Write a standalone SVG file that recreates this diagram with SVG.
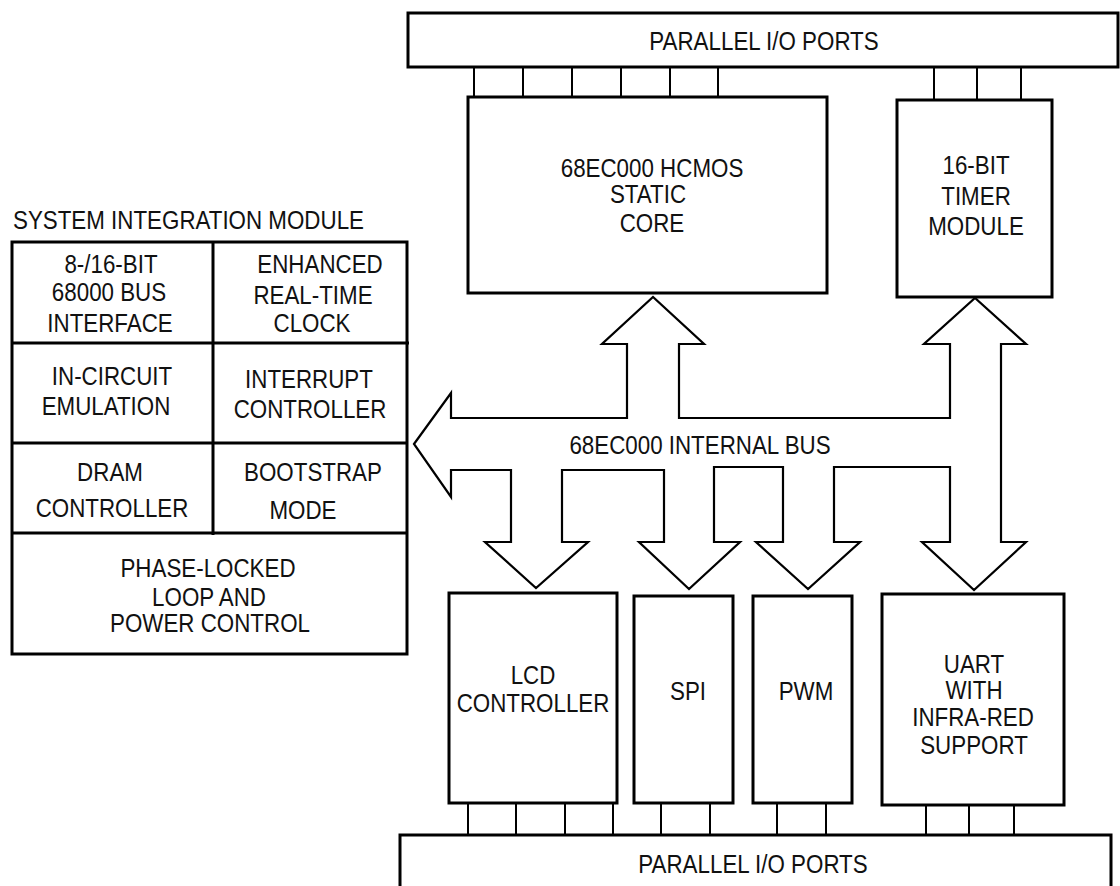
<svg xmlns="http://www.w3.org/2000/svg" width="1120" height="886" viewBox="0 0 1120 886">
<style>
.box{fill:#fff;stroke:#000;stroke-width:3}
.div{stroke:#000;stroke-width:3;fill:none}
.bus{fill:#fff;stroke:#000;stroke-width:2.2;stroke-linejoin:miter}
.tick{stroke:#000;stroke-width:2}
text{font-family:"Liberation Sans",Arial,Helvetica,sans-serif;font-size:26px;fill:#111;text-anchor:middle}
text.l{text-anchor:start}
</style>
<rect width="1120" height="886" fill="#fff"/>
<g id="connectors">
  <g id="bus">
    <polygon class="bus" points="414,444 451,393 451,418 627,418 627,344 602,344 653,297 704,344 679,344 679,418 950,418 950,344 924,344 975,298 1026,344 1001,344 1001,542 1026,542 974,590 922,542 950,542 950,467 834,467 834,542 860,542 808,589 756,542 783,542 783,467 714,467 714,542 740,542 689,589 639,542 664,542 664,470 562,470 562,542 588,542 536,588 485,542 511,542 511,470 451,470 451,497"/>
    <text transform="translate(700,454) scale(0.86,1)">68EC000 INTERNAL BUS</text>
  </g>
  <g id="port-lines-top">
    <line class="tick" x1="474" y1="67" x2="474" y2="97"/>
    <line class="tick" x1="523" y1="67" x2="523" y2="97"/>
    <line class="tick" x1="572" y1="67" x2="572" y2="97"/>
    <line class="tick" x1="621" y1="67" x2="621" y2="97"/>
    <line class="tick" x1="670" y1="67" x2="670" y2="97"/>
    <line class="tick" x1="718" y1="67" x2="718" y2="97"/>
    <line class="tick" x1="934" y1="67" x2="934" y2="100"/>
    <line class="tick" x1="977" y1="67" x2="977" y2="100"/>
    <line class="tick" x1="1021" y1="67" x2="1021" y2="100"/>
  </g>
  <g id="port-lines-bottom">
    <line class="tick" x1="468" y1="803" x2="468" y2="835"/>
    <line class="tick" x1="516" y1="803" x2="516" y2="835"/>
    <line class="tick" x1="565" y1="803" x2="565" y2="835"/>
    <line class="tick" x1="613" y1="803" x2="613" y2="835"/>
    <line class="tick" x1="661" y1="803" x2="661" y2="835"/>
    <line class="tick" x1="710" y1="803" x2="710" y2="835"/>
    <line class="tick" x1="777" y1="803" x2="777" y2="837"/>
    <line class="tick" x1="826" y1="803" x2="826" y2="837"/>
    <line class="tick" x1="926" y1="805" x2="926" y2="835"/>
    <line class="tick" x1="969" y1="805" x2="969" y2="835"/>
    <line class="tick" x1="1014" y1="805" x2="1014" y2="835"/>
  </g>
</g>
<g id="ports-top">
  <rect class="box" x="408" y="13" width="710" height="54"/>
  <text transform="translate(764,50) scale(0.86,1)">PARALLEL I/O PORTS</text>
</g>
<g id="core">
  <rect class="box" x="468" y="97" width="359" height="196"/>
  <text transform="translate(652,177) scale(0.86,1)">68EC000 HCMOS</text>
  <text transform="translate(648,203) scale(0.86,1)">STATIC</text>
  <text transform="translate(652,232) scale(0.86,1)">CORE</text>
</g>
<g id="timer">
  <rect class="box" x="897" y="100" width="155" height="197"/>
  <text transform="translate(976,174) scale(0.86,1)">16-BIT</text>
  <text transform="translate(976,205) scale(0.86,1)">TIMER</text>
  <text transform="translate(976,235) scale(0.86,1)">MODULE</text>
</g>
<g id="sim">
  <text class="l" transform="translate(13,229) scale(0.86,1)">SYSTEM INTEGRATION MODULE</text>
  <rect class="box" x="12" y="242" width="395" height="412"/>
  <line class="div" x1="213" y1="242" x2="213" y2="535"/>
  <line class="div" x1="12" y1="343" x2="409" y2="343"/>
  <line class="div" x1="12" y1="443" x2="407" y2="443"/>
  <line class="div" x1="12" y1="533" x2="407" y2="533"/>
  <g id="sim-bus-interface">
    <text transform="translate(111,273) scale(0.86,1)">8-/16-BIT</text>
    <text transform="translate(109,301) scale(0.86,1)">68000 BUS</text>
    <text transform="translate(110,332) scale(0.86,1)">INTERFACE</text>
  </g>
  <g id="sim-rtc">
    <text transform="translate(320,273) scale(0.86,1)">ENHANCED</text>
    <text transform="translate(313,304) scale(0.86,1)">REAL-TIME</text>
    <text transform="translate(312,332) scale(0.86,1)">CLOCK</text>
  </g>
  <g id="sim-ice">
    <text transform="translate(112,385) scale(0.86,1)">IN-CIRCUIT</text>
    <text transform="translate(106,415) scale(0.86,1)">EMULATION</text>
  </g>
  <g id="sim-interrupt">
    <text transform="translate(309,388) scale(0.86,1)">INTERRUPT</text>
    <text transform="translate(310,418) scale(0.86,1)">CONTROLLER</text>
  </g>
  <g id="sim-dram">
    <text transform="translate(110,481) scale(0.86,1)">DRAM</text>
    <text transform="translate(112,517) scale(0.86,1)">CONTROLLER</text>
  </g>
  <g id="sim-bootstrap">
    <text transform="translate(313,481) scale(0.86,1)">BOOTSTRAP</text>
    <text transform="translate(303,519) scale(0.86,1)">MODE</text>
  </g>
  <g id="sim-pll">
    <text transform="translate(208,577) scale(0.86,1)">PHASE-LOCKED</text>
    <text transform="translate(209,606) scale(0.86,1)">LOOP AND</text>
    <text transform="translate(210,632) scale(0.86,1)">POWER CONTROL</text>
  </g>
</g>
<g id="lcd">
  <rect class="box" x="449" y="593" width="168" height="210"/>
  <text transform="translate(533,684) scale(0.86,1)">LCD</text>
  <text transform="translate(533,712) scale(0.86,1)">CONTROLLER</text>
</g>
<g id="spi">
  <rect class="box" x="634" y="596" width="99" height="207"/>
  <text transform="translate(688,700) scale(0.86,1)">SPI</text>
</g>
<g id="pwm">
  <rect class="box" x="753" y="596" width="99" height="207"/>
  <text transform="translate(806,700) scale(0.86,1)">PWM</text>
</g>
<g id="uart">
  <rect class="box" x="882" y="594" width="182" height="211"/>
  <text transform="translate(974,673) scale(0.86,1)">UART</text>
  <text transform="translate(974,699) scale(0.86,1)">WITH</text>
  <text transform="translate(973,726) scale(0.86,1)">INFRA-RED</text>
  <text transform="translate(974,754) scale(0.86,1)">SUPPORT</text>
</g>
<g id="ports-bottom">
  <rect class="box" x="400" y="835" width="711" height="70"/>
  <text transform="translate(753,873) scale(0.86,1)">PARALLEL I/O PORTS</text>
</g>
</svg>
